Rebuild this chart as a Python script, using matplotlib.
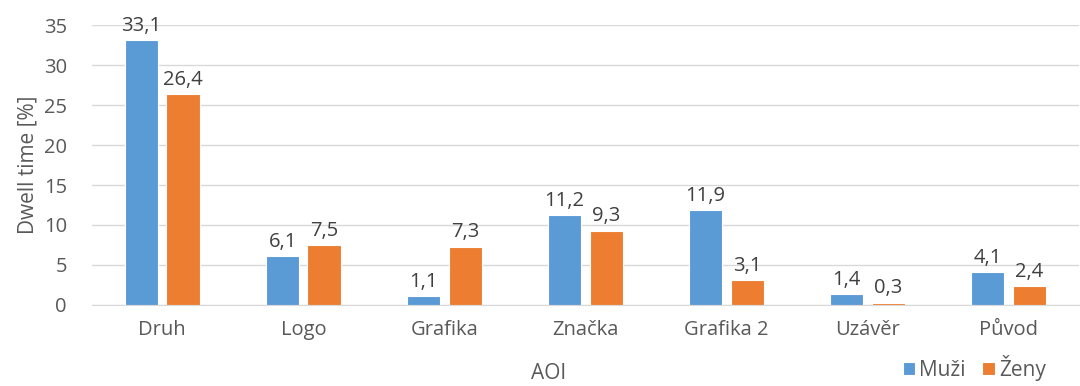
import matplotlib.pyplot as plt
import numpy as np

# Podíl doby fixace v jednotlivých AOI podle pohlaví
kategorie = ['Druh', 'Logo', 'Grafika', 'Značka', 'Grafika 2', 'Uzávěr', 'Původ']
muzi = [33.1, 6.1, 1.1, 11.2, 11.9, 1.4, 4.1]
zeny = [26.4, 7.5, 7.3, 9.3, 3.1, 0.3, 2.4]

modra = '#5B9BD5'
oranzova = '#ED7D31'
seda = '#595959'

plt.rcParams['font.family'] = ['Open Sans', 'DejaVu Sans']

fig = plt.figure(figsize=(10.8, 3.86), dpi=100)
ax = fig.add_axes([0.085, 0.21, 0.914, 0.725])

x = np.arange(len(kategorie))
sirka = 0.235
posun = 0.147

b1 = ax.bar(x - posun, muzi, sirka, color=modra, edgecolor='white', linewidth=0.8, label='Muži', zorder=3)
b2 = ax.bar(x + posun, zeny, sirka, color=oranzova, edgecolor='white', linewidth=0.8, label='Ženy', zorder=3)

# popisky hodnot s desetinnou čárkou
for bars, hodnoty in ((b1, muzi), (b2, zeny)):
    for b, v in zip(bars, hodnoty):
        ax.annotate(f'{v:.1f}'.replace('.', ','), (b.get_x() + b.get_width() / 2, v),
                    xytext=(0, 3), textcoords='offset points', ha='center', va='bottom',
                    fontsize=14.5, color='#404040')

ax.set_xlim(-0.5, len(kategorie) - 0.5)
ax.set_ylim(0, 35)
ax.set_yticks(range(0, 36, 5))
ax.set_xticks(x)
ax.set_xticklabels(kategorie)
ax.tick_params(axis='both', length=0, labelsize=14.5, colors=seda)
ax.tick_params(axis='x', pad=11)
ax.tick_params(axis='y', pad=18)
ax.grid(axis='y', color='#D9D9D9', linewidth=1, zorder=0)
for s in ['top', 'right', 'left']:
    ax.spines[s].set_visible(False)
ax.spines['bottom'].set_color('#D9D9D9')

ax.set_ylabel('Dwell time [%]', fontsize=15, color=seda, labelpad=4)
fig.text(0.508, 0.004, 'AOI', fontsize=15, color=seda, ha='center', va='bottom')

ax.legend(loc='lower right', bbox_to_anchor=(0.975, -0.3), ncol=2, frameon=False,
          fontsize=15, labelcolor=seda, handlelength=0.6, handleheight=0.6,
          handletextpad=0.2, columnspacing=0.8, borderaxespad=0)

fig.savefig('out.png', dpi=100, facecolor='white')
